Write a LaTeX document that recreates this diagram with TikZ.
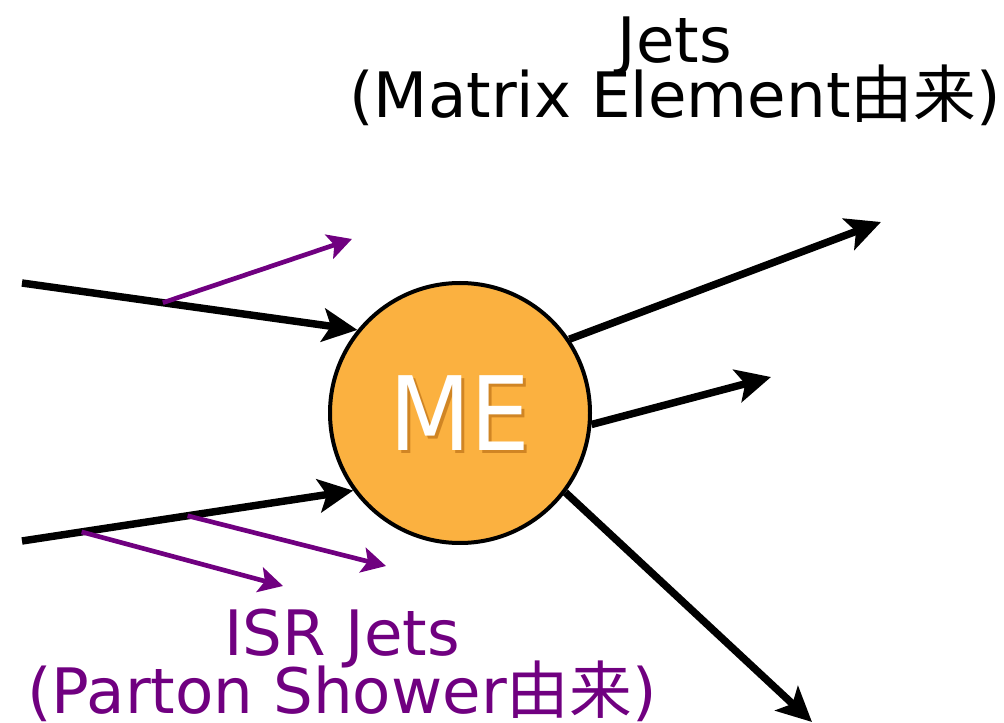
\documentclass[tikz,border=0pt]{standalone}
\usepackage{fontspec}
\usepackage{graphicx}
\setmainfont{DejaVu Sans}
\newfontfamily\cjk{Noto Sans CJK JP}
\usetikzlibrary{arrows.meta}
\definecolor{meorange}{RGB}{251,177,64}
\definecolor{isrpurple}{RGB}{112,0,128}
\definecolor{meshadow}{RGB}{190,115,25}

\begin{document}
\begin{tikzpicture}[x=0.75pt,y=0.75pt,yscale=-1,xscale=1,
		jet/.style={line width=5.6pt,-{Stealth[length=26pt,width=25pt,inset=6pt]}},
		isr/.style={isrpurple,line width=3.5pt,-{Stealth[length=18pt,width=19pt,inset=4pt]}},
		lbl/.style={inner sep=0pt,anchor=base,font=\fontsize{47}{47}\selectfont},
		mefont/.style={inner sep=0pt,font=\fontsize{77}{80}\selectfont}]
			\useasboundingbox (0,0) rectangle (1004,723);
			
			% matrix element blob
			\node[circle,draw,line width=3pt,fill=meorange,minimum size=195pt,inner sep=0pt] (me) at (460,413) {};
			\node[mefont,meshadow,opacity=0.7] (meshade) at (463,416) {\scalebox{0.92}[1]{ME}};
			\node[mefont,white] (metext) at (me.center) {\scalebox{0.92}[1]{ME}};
			
			% free ends
			\coordinate (in1) at (22,283);
			\coordinate (in2) at (22,541);
			\coordinate (jet1) at (881,222);
			\coordinate (jet2) at (771,377);
			\coordinate (jet3) at (812,722);
			\coordinate (isr1tip) at (352,239);
			\coordinate (isr2tip) at (386,566);
			\coordinate (isr3tip) at (283,586);
			
			% incoming partons
			\draw[jet] (in1) -- coordinate[pos=0.42] (isr1) (me.141);
			\draw[jet] (in2) -- coordinate[pos=0.5] (isr2) coordinate[pos=0.18] (isr3) (me.216);
			
			% outgoing jets
			\draw[jet] (me.34) -- (jet1);
			\draw[jet] (me.-5) -- (jet2);
			\draw[jet] (me.-37) -- (jet3);
			
			% ISR
			\draw[isr] (isr1) -- (isr1tip);
			\draw[isr] (isr2) -- (isr2tip);
			\draw[isr] (isr3) -- (isr3tip);
			
			% labels
			\node[lbl] (jetstitle) at (675,63) {Jets};
			\node[lbl] (jetsorigin) at (675,118) {(Matrix Element{\cjk 由来})};
			\node[lbl,isrpurple] (isrtitle) at (342,655) {ISR Jets};
			\node[lbl,isrpurple] (isrorigin) at (342,713) {(Parton Shower{\cjk 由来})};
\end{tikzpicture}
\end{document}
